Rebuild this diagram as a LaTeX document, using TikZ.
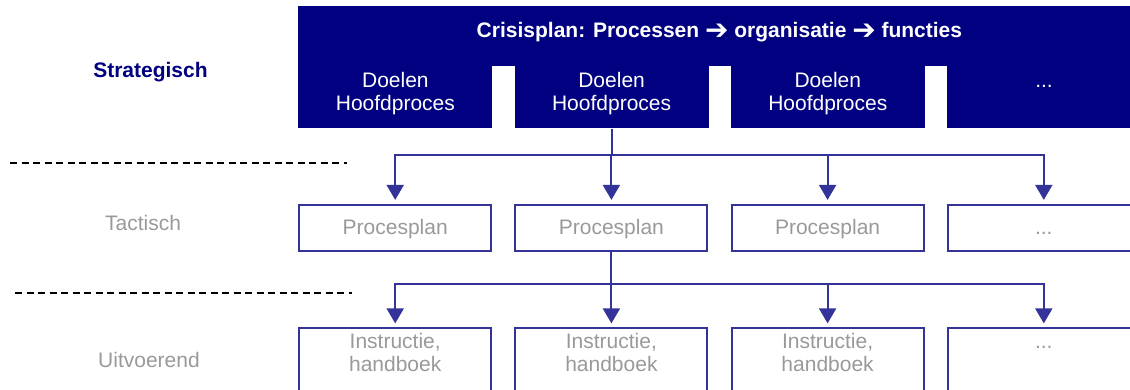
\documentclass[tikz,border=0pt]{standalone}
\usepackage{fontspec}
\setmainfont{Liberation Sans}
\newfontfamily\symfont{DejaVu Sans}
\usepackage{tikz}
\usetikzlibrary{positioning, matrix, arrows.meta}
\definecolor{darkb}{RGB}{0,0,128}
\definecolor{lineb}{RGB}{51,51,153}
\definecolor{lgray}{RGB}{153,153,153}
\newcommand{\thenarrow}{\raisebox{-2.5pt}{\symfont\mdseries\fontsize{28}{23}\selectfont ➔}}

\begin{document}
\begin{tikzpicture}[x=1pt, y=-1pt,
          font=\fontsize{21}{23}\selectfont,
          tb/.style={rectangle, fill=darkb, text=white, font=\fontsize{21}{23}\selectfont\bfseries,
            minimum width=842pt, minimum height=60pt, inner sep=0pt, text height=15pt, text depth=13pt},
          hb/.style={rectangle, fill=darkb, text=white, minimum width=194pt, minimum height=62pt,
            inner sep=0pt, align=center, text depth=12pt},
          pb/.style={rectangle, draw=lineb, line width=2pt, text=lgray, minimum width=192pt,
            minimum height=46pt, inner sep=0pt, text height=16pt, text depth=2pt},
          ib/.style={rectangle, draw=lineb, line width=2pt, text=lgray, minimum width=192pt,
            minimum height=68pt, inner sep=0pt, align=center, text depth=20pt},
          lvl/.style={text=lgray, anchor=base},
          lvlsep/.style={draw=black, line width=1.2pt, dash pattern=on 7pt off 4.5pt},
          ->/.style={-{Triangle[width=17pt, length=15pt]}, draw=lineb, line width=2pt, shorten >=4pt}]
        \useasboundingbox (0,0) rectangle (1130,389);
        \clip (0,0) rectangle (1130,389);
        \matrix[row sep=75.5pt, column sep=22pt, inner sep=0pt, ampersand replacement=\&,
          anchor=north west] at (298,66) {
          \node[hb] (h1) {Doelen\\Hoofdproces}; \& \node[hb] (h2) {Doelen\\Hoofdproces}; \&
            \node[hb] (h3) {Doelen\\Hoofdproces}; \&
            \node[hb] (h4) {\vphantom{Doelen}...\\\phantom{Hoofdproces}};\\
          \node[pb] (p1) {Procesplan}; \& \node[pb] (p2) {Procesplan}; \&
            \node[pb] (p3) {Procesplan}; \& \node[pb] (p4) {...};\\
          \node[ib] (i1) {Instructie,\\handboek}; \& \node[ib] (i2) {Instructie,\\handboek}; \&
            \node[ib] (i3) {Instructie,\\handboek}; \&
            \node[ib] (i4) {\vphantom{Instructie,}...\\\phantom{handboek}};\\
        };
        \node[tb, anchor=south west] (t) at (h1.north west)
          {Crisisplan: Processen \thenarrow{} organisatie \thenarrow{} functies};
        % levels
        \node[lvl, text=darkb, font=\fontsize{21}{23}\selectfont\bfseries] (strat) at (150.5,77) {Strategisch};
        \node[lvl] (tact) at (143,230) {Tactisch};
        \node[lvl] (uitv) at (149,367) {Uitvoerend};
        \draw[lvlsep] (10,163) -- (347,163);
        \draw[lvlsep] (15,293) -- (352,293);
        % connectors
        \path (h2.south) ++(0,26) coordinate (b1);
        \path (p2.south) ++(0,32) coordinate (b2);
        \foreach \j in {1,...,4} {
          \draw[->] (h2.south) -- (b1) -| (p\j.north);
          \draw[->] (p2.south) -- (b2) -| (i\j.north);
        }
      \end{tikzpicture}
\end{document}
